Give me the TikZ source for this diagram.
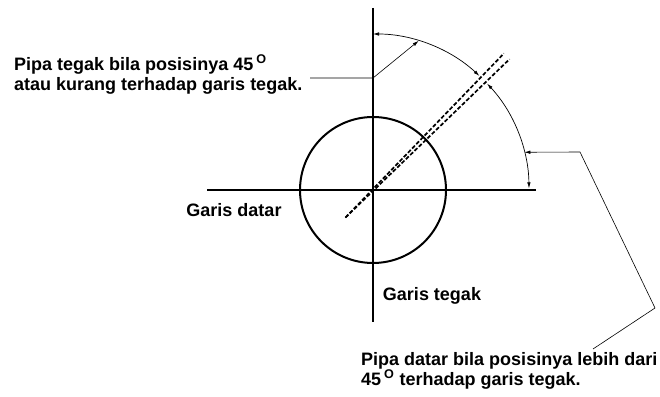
\documentclass[tikz,border=0pt]{standalone}
\usepackage{fontspec}
\setmainfont{Liberation Sans}
\usepackage{tikz}
\usetikzlibrary{arrows.meta, positioning, calc}

\begin{document}
\begin{tikzpicture}[x=1pt, y=1pt, >={Latex[length=6pt, width=3.5pt]},
  every node/.style={font=\fontsize{18}{20}\selectfont\bfseries, inner sep=0pt},
  axis/.style={line width=2pt},
  pipe/.style={line width=1.7pt, dash pattern=on 4pt off 2pt},
  dim/.style={line width=0.7pt},
  leader/.style={line width=0.6pt}]
\useasboundingbox (0,0) rectangle (660,396);
% axes and circle
\coordinate (O) at (373,206);
\draw[axis] (373,388) -- (373,74);
\draw[axis] (207,206) -- (536,206);
\draw[axis] (O) circle[radius=73pt];
% the pipe at 45 degrees
\draw[pipe] ($(O)+(225:39)$) -- ($(O)+(45:189)+(135:4)$);
\draw[pipe] ($(O)+(225:39)$) -- ($(O)+(45:189)+(-45:4)$);
% angle arcs
\draw[dim, <->] ($(O)+(47:156)$) arc[start angle=47, end angle=90, radius=156pt];
\draw[dim, <->] ($(O)+(0.6:156)$) arc[start angle=0.6, end angle=43, radius=156pt];
% labels
\node[anchor=north west, align=left] (tegakTxt) at (14,341)
  {Pipa tegak bila posisinya 45\,\textsuperscript{O}\\atau kurang terhadap garis tegak.};
\node (datarLbl) at (234,186) {Garis datar};
\node (tegakLbl) at (432,100) {Garis tegak};
\node[anchor=north west, align=left] (datarTxt) at (361,44)
  {Pipa datar bila posisinya lebih dari\\45\,\textsuperscript{O} terhadap garis tegak.};
% leaders
\coordinate (tegakEnd) at (310,318);
\coordinate (tegakBend) at (373,318);
\coordinate (arcTop) at ($(O)+(73:156)$);
\draw[leader, ->] (tegakEnd) -- (tegakBend) -- (arcTop);
\coordinate (arcRight) at ($(O)+(14:156)$);
\coordinate (datarBendA) at (580,244);
\coordinate (datarBendB) at (655,88);
\coordinate (datarEnd) at (593,47);
\draw[leader, <-] (arcRight) -- (datarBendA) -- (datarBendB) -- (datarEnd);
\end{tikzpicture}
\end{document}
